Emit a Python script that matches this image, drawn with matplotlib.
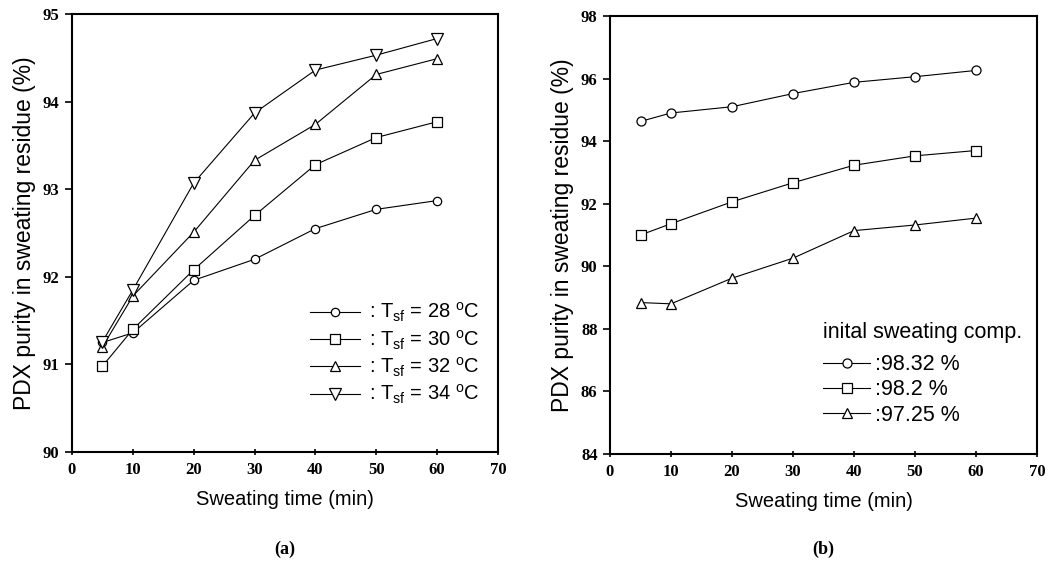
import matplotlib
matplotlib.use("Agg")
import matplotlib.pyplot as plt

# ---------------- data ----------------
time_min = [5, 10, 20, 30, 40, 50, 60]

# (a) effect of sweating temperature
a_labels = ["28", "30", "32", "34"]
a_t28 = [91.25, 91.36, 91.96, 92.20, 92.55, 92.77, 92.87]
a_t30 = [90.98, 91.40, 92.08, 92.70, 93.28, 93.59, 93.77]
a_t32 = [91.20, 91.78, 92.51, 93.33, 93.74, 94.31, 94.49]
a_t34 = [91.26, 91.85, 93.07, 93.87, 94.36, 94.53, 94.72]

# (b) effect of initial composition
b_labels = ["98.32", "98.2", "97.25"]
b_c9832 = [94.63, 94.90, 95.10, 95.52, 95.88, 96.06, 96.26]
b_c982 = [91.00, 91.36, 92.06, 92.67, 93.23, 93.53, 93.70]
b_c9725 = [88.84, 88.80, 89.62, 90.26, 91.14, 91.32, 91.54]

x_ticks = [0, 10, 20, 30, 40, 50, 60, 70]
a_yticks = [90, 91, 92, 93, 94, 95]
b_yticks = [84, 86, 88, 90, 92, 94, 96, 98]

# ---------------- style ----------------
plt.rcParams['mathtext.fontset'] = 'custom'
plt.rcParams['mathtext.rm'] = 'Liberation Sans'
plt.rcParams['mathtext.it'] = 'Liberation Sans:italic'
sans = 'Liberation Sans'
serif = 'Liberation Serif'

W, H = 1060, 569
fig = plt.figure(figsize=(W/100, H/100), dpi=100)
axA = fig.add_axes([72/W, 1-452/H, (498-72)/W, (452-14)/H])
axB = fig.add_axes([610/W, 1-454/H, (1037-610)/W, (454-16)/H])

mk = dict(color='black', lw=0.8, markerfacecolor='white',
          markeredgecolor='black', markeredgewidth=0.9)

def style_axes(ax, yticks):
    ax.set_xlim(0, 70)
    ax.set_ylim(yticks[0], yticks[-1])
    ax.set_xticks(x_ticks)
    ax.set_yticks(yticks)
    for s in ax.spines.values():
        s.set_linewidth(1.5)
    ax.tick_params(axis='x', direction='inout', length=5, width=1.2, pad=5)
    ax.tick_params(axis='y', direction='out', length=5, width=1.2, pad=4)
    for lab in ax.get_xticklabels() + ax.get_yticklabels():
        lab.set_fontfamily(serif)
        lab.set_fontweight('bold')
        lab.set_fontsize(12)
    ax.set_xlabel("Sweating time (min)", fontfamily=sans, fontsize=14.5, labelpad=8)
    ax.set_ylabel("PDX purity in sweating residue (%)", fontfamily=sans,
                  fontsize=16.5, labelpad=5)

# ---- panel (a)
a_series = [a_t28, a_t30, a_t32, a_t34]
a_markers = ['o', 's', '^', 'v']
a_sizes = [6, 7, 7.5, 8]
for ys, m, ms, lab in zip(a_series, a_markers, a_sizes, a_labels):
    axA.plot(time_min, ys, marker=m, markersize=ms,
             label=r': T$_{\rm sf}$ = ' + lab + r' $^{\rm o}$C', **mk)
style_axes(axA, a_yticks)
legA = axA.legend(loc='upper left', bbox_to_anchor=(310/W, 1-301/H),
                  bbox_transform=fig.transFigure, frameon=False,
                  prop={'family': sans, 'size': 14.5}, handlelength=2.5,
                  handletextpad=0.45, labelspacing=0.2, borderaxespad=0,
                  borderpad=0)

# ---- panel (b)
b_series = [b_c9832, b_c982, b_c9725]
b_markers = ['o', 's', '^']
b_sizes = [6.5, 7.5, 7.5]
for ys, m, ms, lab in zip(b_series, b_markers, b_sizes, b_labels):
    axB.plot(time_min, ys, marker=m, markersize=ms, label=':' + lab + ' %', **mk)
style_axes(axB, b_yticks)
legB = axB.legend(loc='upper left', bbox_to_anchor=(823/W, 1-322/H),
                  bbox_transform=fig.transFigure, frameon=False,
                  title="inital sweating comp.",
                  prop={'family': sans, 'size': 15.5},
                  title_fontproperties={'family': sans, 'size': 15.5},
                  handlelength=2.2, handletextpad=0.2, labelspacing=0.2,
                  borderaxespad=0, borderpad=0, alignment='left')
legB._legend_box.sep = 8

# panel captions
fig.text((72+498)/2/W, 1-549/H, "(a)", ha='center', va='center',
         fontfamily=serif, fontweight='bold', fontsize=13)
fig.text((610+1037)/2/W, 1-549/H, "(b)", ha='center', va='center',
         fontfamily=serif, fontweight='bold', fontsize=13)

fig.savefig("out.png", dpi=100, facecolor='white')
